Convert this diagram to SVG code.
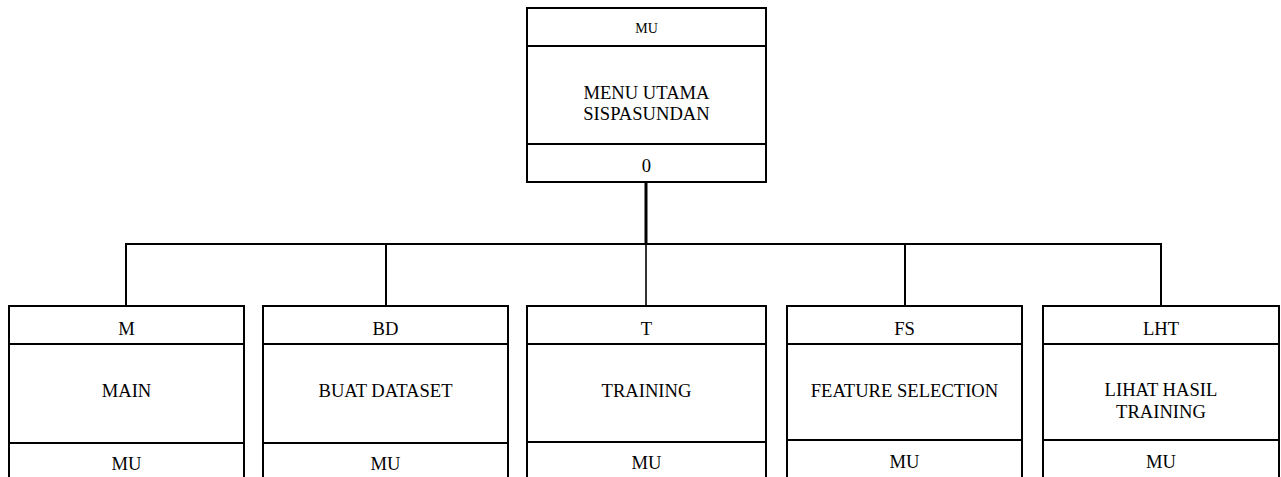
<svg xmlns="http://www.w3.org/2000/svg" width="1281" height="477" viewBox="0 0 1281 477">
<style>
.box{fill:#fff;stroke:#000;stroke-width:2}
.div{stroke:#000;stroke-width:2;fill:none}
.wire{stroke:#000;stroke-width:2;fill:none}
.t{font-family:"Liberation Serif","Times New Roman",serif;font-size:18.6px;fill:#000;text-anchor:middle;dominant-baseline:central}
.s{font-size:14px}
</style>
<rect width="1281" height="477" fill="#fff"/>
<g id="connectors">
<line class="wire" x1="646" y1="182" x2="646" y2="244" style="stroke-width:3"/>
<line class="wire" x1="125" y1="244" x2="1162" y2="244"/>
<line class="wire" x1="126" y1="244" x2="126" y2="306"/>
<line class="wire" x1="386" y1="244" x2="386" y2="306"/>
<line class="wire" x1="646" y1="244" x2="646" y2="306" style="stroke-width:1.6"/>
<line class="wire" x1="905" y1="244" x2="905" y2="306"/>
<line class="wire" x1="1161" y1="244" x2="1161" y2="306"/>
</g>
<g id="node-MU">
<rect class="box" x="527" y="8" width="239" height="174"/>
<line class="div" x1="527" y1="46" x2="766" y2="46"/>
<line class="div" x1="527" y1="144" x2="766" y2="144"/>
<text class="t s" x="646.5" y="28">MU</text>
<text class="t" x="646.5" y="92">MENU UTAMA</text>
<text class="t" x="646.5" y="113">SISPASUNDAN</text>
<text class="t" x="646.5" y="165">0</text>
</g>
<g id="node-M">
<rect class="box" x="9" y="306" width="235" height="190"/>
<line class="div" x1="9" y1="344" x2="244" y2="344"/>
<line class="div" x1="9" y1="443" x2="244" y2="443"/>
<text class="t" x="126.5" y="328">M</text>
<text class="t" x="126.5" y="390">MAIN</text>
<text class="t" x="126.5" y="463">MU</text>
</g>
<g id="node-BD">
<rect class="box" x="263" y="306" width="245" height="190"/>
<line class="div" x1="263" y1="344" x2="508" y2="344"/>
<line class="div" x1="263" y1="443" x2="508" y2="443"/>
<text class="t" x="385.5" y="328">BD</text>
<text class="t" x="385.5" y="390">BUAT DATASET</text>
<text class="t" x="385.5" y="463">MU</text>
</g>
<g id="node-T">
<rect class="box" x="527" y="306" width="239" height="190"/>
<line class="div" x1="527" y1="344" x2="766" y2="344"/>
<line class="div" x1="527" y1="442" x2="766" y2="442"/>
<text class="t" x="646.5" y="328">T</text>
<text class="t" x="646.5" y="390">TRAINING</text>
<text class="t" x="646.5" y="462">MU</text>
</g>
<g id="node-FS">
<rect class="box" x="787" y="306" width="235" height="190"/>
<line class="div" x1="787" y1="344" x2="1022" y2="344"/>
<line class="div" x1="787" y1="440" x2="1022" y2="440"/>
<text class="t" x="904.5" y="328">FS</text>
<text class="t" x="904.5" y="390">FEATURE SELECTION</text>
<text class="t" x="904.5" y="461">MU</text>
</g>
<g id="node-LHT">
<rect class="box" x="1043" y="306" width="236" height="190"/>
<line class="div" x1="1043" y1="344" x2="1279" y2="344"/>
<line class="div" x1="1043" y1="440" x2="1279" y2="440"/>
<text class="t" x="1161" y="328">LHT</text>
<text class="t" x="1161" y="389">LIHAT HASIL</text>
<text class="t" x="1161" y="411">TRAINING</text>
<text class="t" x="1161" y="461">MU</text>
</g>
</svg>
